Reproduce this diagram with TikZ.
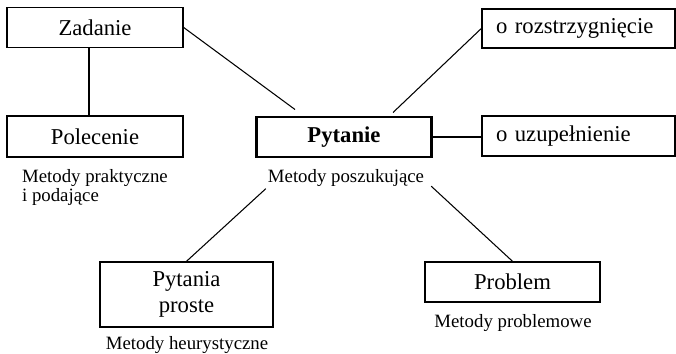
\documentclass[tikz,border=0pt]{standalone}
\usepackage{fontspec}
\setmainfont{Liberation Serif}

\begin{document}
\begin{tikzpicture}[
    box/.style={
        draw=black, line width=0.8pt, fill=white,
        minimum width=3.52cm, minimum height=0.8cm, inner sep=2pt,
        font=\fontsize{12.9}{14}\selectfont
    },
    mainbox/.style={
        box, line width=1.7pt, minimum width=3.5cm,
        font=\fontsize{12.9}{14}\selectfont\bfseries
    },
    sidebox/.style={
        box, minimum width=3.86cm, text width=3.3cm, align=left, inner xsep=0.28cm
    },
    wire/.style={-, line width=0.6pt, black},
    mlab/.style={font=\fontsize{10.7}{11.2}\selectfont, inner sep=1pt, text=black},
]
    \useasboundingbox (0,0) rectangle (13.52,7.06);

    \node[box]      (Z)   at (1.90,6.51) {Zadanie};
    \node[box, minimum height=0.82cm] (Pol) at (1.90,4.33) {Polecenie};
    \node[mainbox]  (P)   at (6.88,4.32) {Pytanie};
    \node[sidebox, minimum height=0.78cm] (R) at (11.57,6.49) {o rozstrzygnięcie};
    \node[sidebox]  (U)   at (11.57,4.34) {o uzupełnienie};
    \node[box, minimum width=3.46cm, minimum height=1.3cm, align=center] (PP) at (3.73,1.17) {Pytania\\[1pt]proste};
    \node[box, minimum width=3.5cm] (Pr) at (10.25,1.42) {Problem};

    \node[mlab, anchor=west, align=left] (mPol) at (0.40,3.31) {Metody praktyczne\\i podające};
    \node[mlab] (mP)  at (6.92,3.50) {Metody poszukujące};
    \node[mlab] (mPP) at (3.74,0.16) {Metody heurystyczne};
    \node[mlab] (mPr) at (10.26,0.60) {Metody problemowe};

    \draw[wire] ([xshift=-0.12cm]Z.south) -- ([xshift=-0.12cm]Pol.north);
    \draw[wire] (Z.east) -- ([shift={(0.8,0.12)}]P.north west);
    \draw[wire] ([shift={(2.76,0.06)}]P.north west) -- (R.west);
    \draw[wire] (P.east) -- (P.east -| U.west);
    \draw[wire] (mP.south west) -- (PP.north);
    \draw[wire] ([shift={(0.1,0.05)}]mP.south east) -- (Pr.north);

\end{tikzpicture}
\end{document}
